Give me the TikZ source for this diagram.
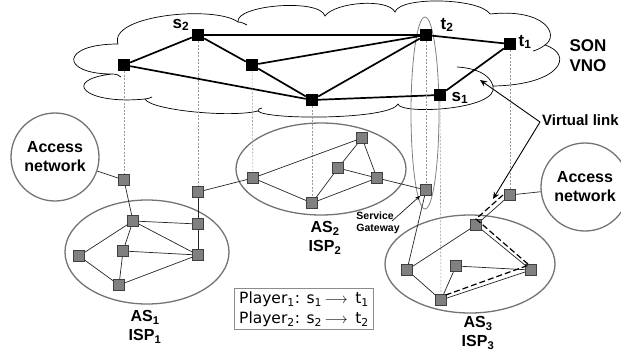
\documentclass[tikz,border=0pt]{standalone}
\usepackage{fontspec}
\setmainfont{Liberation Sans}
\newfontfamily\verd{DejaVu Sans}
\usetikzlibrary{arrows.meta}
\begin{document}
\begin{tikzpicture}[x=1pt,y=-1pt,
  bk/.style={fill=black, minimum size=12pt, inner sep=0pt},
  gr/.style={fill=black!50, draw=black!75, line width=0.6pt, minimum size=11pt, inner sep=0pt},
  sonl/.style={line width=1.7pt},
  lnk/.style={line width=0.7pt, black!85},
  vd/.style={black!40, dash pattern=on 2pt off 1.5pt, line width=0.6pt},
  asell/.style={draw=black!55, line width=1.3pt},
  cloudl/.style={line width=0.7pt, black},
  lbl/.style={font=\bfseries\fontsize{16}{19}\selectfont, align=center, inner sep=0pt},
  sl/.style={font=\bfseries\fontsize{17}{19}\selectfont, inner sep=0pt},
  vlink/.style={line width=1.2pt, dash pattern=on 6pt off 3pt},
  arr/.style={line width=0.9pt, -{Stealth[length=7pt,width=6pt]}}
]
\useasboundingbox (0,0) rectangle (621,354);

% cloud
\draw[cloudl, fill=white] (112,74) .. controls (60,74) and (60,44) .. (118,44)
  .. controls (108,15) and (215,5) .. (238,22)
  .. controls (235,5) and (320,-2) .. (325,16)
  .. controls (335,2) and (388,-2) .. (395,12)
  .. controls (400,-4) and (480,-2) .. (490,14)
  .. controls (545,8) and (560,35) .. (545,45)
  .. controls (575,55) and (560,85) .. (493,86)
  .. controls (500,110) and (400,115) .. (398,104)
  .. controls (390,120) and (265,120) .. (258,111)
  .. controls (230,118) and (150,110) .. (145,99)
  .. controls (85,105) and (60,80) .. (112,74) -- cycle;
\draw[cloudl] (457,67) .. controls (475,68) and (490,74) .. (493,86);
\draw[cloudl] (238,22) .. controls (242,22) and (245,24) .. (247,25);
\draw[cloudl] (112,74) .. controls (116,74) and (119,75) .. (121,77);
\draw[cloudl] (145,99) .. controls (147,99) and (150,98) .. (152,97);
\draw[cloudl] (258,111) .. controls (258,109) and (260,108) .. (262,108);
\draw[cloudl] (545,45) .. controls (541,48) and (537,50) .. (533,51);

% tall ellipse around t2 column
\draw[black!50, line width=0.8pt] (425,113) ellipse [x radius=14, y radius=96];

% AS ellipses
\draw[asell] (147,252) ellipse [x radius=82, y radius=52];
\draw[asell] (321,169) ellipse [x radius=85, y radius=46];
\draw[asell] (470,264) ellipse [x radius=85, y radius=49];

% access network circles
\node[circle, draw=black!55, line width=1.3pt, minimum size=88pt, inner sep=0pt,
      lbl] (accL) at (55,157) {Access\\network};
\node[circle, draw=black!55, line width=1.3pt, minimum size=88pt, inner sep=0pt,
      lbl] (accR) at (585,187) {Access\\network};

% SON nodes
\node[bk] (v2) at (198,35) {};
\node[bk] (va) at (124,65) {};
\node[bk] (vb) at (252,65) {};
\node[bk] (vc) at (312,100) {};
\node[bk] (t2) at (426,35) {};
\node[bk] (t1) at (510,44) {};
\node[bk] (s1) at (440,95) {};

\node[sl] at (181,25) {s\textsubscript{2}};
\node[sl] at (447,25) {t\textsubscript{2}};
\node[sl] at (525,42) {t\textsubscript{1}};
\node[sl] at (460,98) {s\textsubscript{1}};

\node[lbl, font=\bfseries\fontsize{17}{20}\selectfont] at (588,56) {SON\\VNO};

\draw[sonl] (va) -- (v2);
\draw[sonl] (va) -- (vc);
\draw[sonl] (v2) -- (t2);
\draw[sonl] (v2) -- (vb);
\draw[sonl] (vb) -- (vc);
\draw[sonl] (vb) -- (t2);
\draw[sonl] (vc) -- (t2);
\draw[sonl] (vc) -- (s1);
\draw[sonl] (t2) -- (t1);
\draw[sonl] (t1) -- (s1);

% physical nodes
\node[gr] (pa) at (124,180) {};
\node[gr] (pb) at (198,192) {};
% AS1
\node[gr] (a1) at (133,221) {};
\node[gr] (a2) at (198,224) {};
\node[gr] (a3) at (79,256) {};
\node[gr] (a4) at (123,251) {};
\node[gr] (a5) at (198,255) {};
\node[gr] (a6) at (119,285) {};
% AS2
\node[gr] (b1) at (253,178) {};
\node[gr] (b2) at (362,138) {};
\node[gr] (b3) at (338,168) {};
\node[gr] (b4) at (377,178) {};
\node[gr] (b5) at (312,203) {};
\node[gr] (gw) at (426,190) {};
% AS3
\node[gr] (c1) at (476,225) {};
\node[gr] (c2) at (407,270) {};
\node[gr] (c3) at (456,266) {};
\node[gr] (c4) at (531,270) {};
\node[gr] (c5) at (441,300) {};
\node[gr] (pc) at (510,195) {};

% vertical mappings
\draw[vd] (va) -- (pa);
\draw[vd] (v2) -- (pb);
\draw[vd] (vb) -- (b1);
\draw[vd] (vc) -- (b5);
\draw[vd] (t2) -- (gw);
\draw[vd] (s1) -- (c5);
\draw[vd] (t1) -- (pc);

% physical links
\draw[lnk] (accL) -- (pa);
\draw[lnk] (pa) -- (a1);
\draw[lnk] (pb) -- (a2);
\draw[lnk] (pb) -- (b1);
\draw[lnk] (a1) -- (a2);
\draw[lnk] (a1) -- (a3);
\draw[lnk] (a1) -- (a4);
\draw[lnk] (a1) -- (a5);
\draw[lnk] (a4) -- (a5);
\draw[lnk] (a4) -- (a6);
\draw[lnk] (a3) -- (a6);
\draw[lnk] (a6) -- (a5);
\draw[lnk] (a2) -- (a5);

\draw[lnk] (b1) -- (b2);
\draw[lnk] (b1) -- (b5);
\draw[lnk] (b5) -- (b3);
\draw[lnk] (b5) -- (b4);
\draw[lnk] (b2) -- (b3);
\draw[lnk] (b2) -- (b4);
\draw[lnk] (b3) -- (b4);
\draw[lnk] (b4) -- (gw);
\draw[lnk] (gw) -- (c2);

\draw[lnk] (c2) -- (c1);
\draw[lnk] (c2) -- (c5);
\draw[lnk] (c5) -- (c3);
\draw[lnk] (c3) -- (c4);
\draw[lnk] (c5) -- (c4);
\draw[lnk] (c1) -- (c4);
\draw[lnk] (c1) -- (pc);
\draw[lnk] (pc) -- (accR);

% virtual link (dashed)
\coordinate (d0) at (503,195);
\coordinate (d1) at (476,219);
\coordinate (d2) at (529,265);
\coordinate (d3) at (443,296);
\draw[vlink] (d0) -- (d1) -- (d2) -- (d3);

% labels
\node[lbl] at (145,327) {AS\textsubscript{1}\\ISP\textsubscript{1}};
\node[lbl] at (325,238) {AS\textsubscript{2}\\ISP\textsubscript{2}};
\node[lbl] at (478,333) {AS\textsubscript{3}\\ISP\textsubscript{3}};

\node[font=\bfseries\fontsize{10.5}{12}\selectfont, align=left, inner sep=0pt] (sg) at (378,223) {Service\\Gateway};
\coordinate (sgs) at (392,221);
\draw[line width=0.6pt, -{Stealth[length=5pt,width=4pt]}] (sgs) -- (gw.south west);

\node[font=\bfseries\fontsize{15}{18}\selectfont, anchor=west, inner sep=0pt] (vl) at (542,120) {Virtual link};
\coordinate (vlt) at (540,122);
\coordinate (vla) at (480,80);
\coordinate (vlb) at (493,199);
\draw[arr] (vlt) -- (vla);
\draw[arr] (vlt) -- (vlb);

% player box
\node[draw=black!45, line width=0.8pt, align=left, inner xsep=5pt, inner ysep=3pt,
      font=\verd\fontsize{15.5}{20}\selectfont] (pl) at (304,309)
  {Player\textsubscript{1}: s\textsubscript{1}\,$\longrightarrow$\, t\textsubscript{1}\\
   Player\textsubscript{2}: s\textsubscript{2}\,$\longrightarrow$\, t\textsubscript{2}};
\end{tikzpicture}
\end{document}
